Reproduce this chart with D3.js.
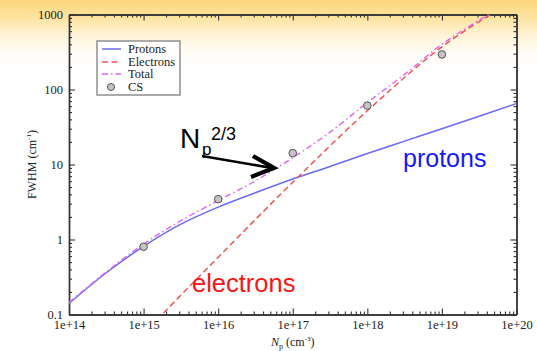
<!DOCTYPE html>
<html><head><meta charset="utf-8">
<script src="https://cdn.jsdelivr.net/npm/d3@7"></script>
<style>body{margin:0;background:#fff}svg{display:block}</style>
</head><body><svg id="c" width="537" height="351"></svg>
<script>
// ---- data ----
const xTickValues = [1e14, 1e15, 1e16, 1e17, 1e18, 1e19, 1e20];
const xTickLabels = ["1e+14", "1e+15", "1e+16", "1e+17", "1e+18", "1e+19", "1e+20"];
const yTickValues = [0.1, 1, 10, 100, 1000];
const yTickLabels = ["0.1", "1", "10", "100", "1000"];

const protonN = [1e14, 3.16e14, 1e15, 3.16e15, 1e16, 3.16e16, 1e17, 3.16e17, 1e18, 3.16e18, 1e19, 3.16e19, 1e20];
const protonFWHM = [0.14, 0.36, 0.81, 1.6, 2.7, 4.2, 6.4, 9.4, 14, 20.5, 30, 44, 65];

const electronN = [1e15, 1e16, 1e17, 1e18, 1e19, 1e20];
const electronFWHM = [0.056, 0.58, 5.8, 52, 370, 1600];

const totalN = [1e14, 3.16e14, 1e15, 3.16e15, 1e16, 3.16e16, 1e17, 3.16e17, 1e18, 3.16e18, 1e19, 3.16e19, 1e20];
const totalFWHM = [0.145, 0.37, 0.87, 1.78, 3.3, 6.05, 12.3, 27, 67, 159, 400, 840, 1665];

const csN = [1e15, 1e16, 1e17, 1e18, 1e19];
const csFWHM = [0.8, 3.45, 14.2, 61, 293];

const legendNames = ["Protons", "Electrons", "Total", "CS"];

// ---- setup ----
const svg = d3.select("#c");
const W = 537, H = 351;
const defs = svg.append("defs");
const g = defs.append("linearGradient").attr("id", "bg").attr("x1", 0).attr("y1", 0).attr("x2", 0).attr("y2", 1);
[[0, "#fcd67c"], [0.05, "#fde3a0"], [0.1, "#fff3d6"], [0.15, "#fffdf7"], [0.2, "#ffffff"], [1, "#ffffff"]]
  .forEach(([o, c]) => g.append("stop").attr("offset", o).attr("stop-color", c));
svg.append("rect").attr("width", W).attr("height", H).attr("fill", "url(#bg)");

const X0 = 69, X1 = 516.5, Y0 = 314.5, Y1 = 14.5;
const x = d3.scaleLog().domain([1e14, 1e20]).range([X0, X1]);
const y = d3.scaleLog().domain([0.1, 1000]).range([Y0, Y1]);

defs.append("clipPath").attr("id", "clip").append("rect")
  .attr("x", X0).attr("y", Y1).attr("width", X1 - X0).attr("height", Y0 - Y1);

// minor ticks
const xMinor = [], yMinor = [];
for (let d = 14; d < 20; d++) for (let k = 2; k <= 9; k++) xMinor.push(k * Math.pow(10, d));
for (let d = -1; d < 3; d++) for (let k = 2; k <= 9; k++) yMinor.push(+(k * Math.pow(10, d)).toPrecision(3));

const axisColor = "#333";
function styleAxis(sel, labels) {
  sel.selectAll("path.domain").attr("stroke", axisColor).attr("stroke-width", 1.4);
  sel.selectAll(".tick line").attr("stroke", axisColor).attr("stroke-width", 1.1);
  sel.selectAll("text").attr("font-family", "'Liberation Serif', 'Times New Roman', serif")
    .attr("font-size", 12.5).attr("fill", "#222");
  if (!labels) sel.selectAll("text").remove();
}

const xLab = d3.scaleOrdinal().domain(xTickValues).range(xTickLabels);
const yLab = d3.scaleOrdinal().domain(yTickValues).range(yTickLabels);

// bottom
svg.append("g").attr("transform", `translate(0,${Y0})`)
  .call(d3.axisBottom(x).tickValues(xMinor).tickSize(-3).tickSizeOuter(0).tickFormat(""))
  .call(s => styleAxis(s, false));
svg.append("g").attr("transform", `translate(0,${Y0})`)
  .call(d3.axisBottom(x).tickValues(xTickValues).tickSize(-6).tickSizeOuter(0).tickPadding(6)
    .tickFormat(d => xLab(d)))
  .call(s => styleAxis(s, true));
// top
svg.append("g").attr("transform", `translate(0,${Y1})`)
  .call(d3.axisTop(x).tickValues(xMinor).tickSize(-3).tickSizeOuter(0).tickFormat(""))
  .call(s => styleAxis(s, false));
svg.append("g").attr("transform", `translate(0,${Y1})`)
  .call(d3.axisTop(x).tickValues(xTickValues).tickSize(-6).tickSizeOuter(0).tickFormat(""))
  .call(s => styleAxis(s, false));
// left
svg.append("g").attr("transform", `translate(${X0},0)`)
  .call(d3.axisLeft(y).tickValues(yMinor).tickSize(-3).tickSizeOuter(0).tickFormat(""))
  .call(s => styleAxis(s, false));
svg.append("g").attr("transform", `translate(${X0},0)`)
  .call(d3.axisLeft(y).tickValues(yTickValues).tickSize(-6).tickSizeOuter(0).tickPadding(6)
    .tickFormat(d => yLab(d)))
  .call(s => styleAxis(s, true));
// right
svg.append("g").attr("transform", `translate(${X1},0)`)
  .call(d3.axisRight(y).tickValues(yMinor).tickSize(-3).tickSizeOuter(0).tickFormat(""))
  .call(s => styleAxis(s, false));
svg.append("g").attr("transform", `translate(${X1},0)`)
  .call(d3.axisRight(y).tickValues(yTickValues).tickSize(-6).tickSizeOuter(0).tickFormat(""))
  .call(s => styleAxis(s, false));

// axis titles
const serif = "'Liberation Serif', 'Times New Roman', serif";
const xt = svg.append("text").attr("x", (X0 + X1) / 2).attr("y", 346).attr("text-anchor", "middle")
  .attr("font-family", serif).attr("font-size", 12).attr("fill", "#222");
xt.append("tspan").attr("font-style", "italic").text("N");
xt.append("tspan").attr("font-size", 8).attr("dy", 3).text("p");
xt.append("tspan").attr("dy", -3).text(" (cm");
xt.append("tspan").attr("font-size", 7).attr("dy", -5).text("-3");
xt.append("tspan").attr("dy", 5).text(")");

const yt = svg.append("text").attr("transform", `translate(36,${(Y0 + Y1) / 2}) rotate(-90)`)
  .attr("text-anchor", "middle").attr("font-family", serif).attr("font-size", 12).attr("fill", "#222");
yt.append("tspan").text("FWHM (cm");
yt.append("tspan").attr("font-size", 7).attr("dy", -5).text("-1");
yt.append("tspan").attr("dy", 5).text(")");

// lines
const plot = svg.append("g").attr("clip-path", "url(#clip)");
const line = d3.line().x(d => x(d[0])).y(d => y(d[1])).curve(d3.curveMonotoneX);
const zip = (a, b) => a.map((v, i) => [v, b[i]]);

plot.append("path").datum(zip(protonN, protonFWHM)).attr("d", line)
  .attr("fill", "none").attr("stroke", "#6a6af5").attr("stroke-width", 1.5);
plot.append("path").datum(zip(electronN, electronFWHM)).attr("d", line)
  .attr("fill", "none").attr("stroke", "#ee5555").attr("stroke-width", 1.5).attr("stroke-dasharray", "6,3.5");
plot.append("path").datum(zip(totalN, totalFWHM)).attr("d", line)
  .attr("fill", "none").attr("stroke", "#dd66f0").attr("stroke-width", 1.4).attr("stroke-dasharray", "6,3,1.5,3");

plot.selectAll("circle.cs").data(zip(csN, csFWHM)).join("circle").attr("class", "cs")
  .attr("cx", d => x(d[0])).attr("cy", d => y(d[1])).attr("r", 3.8)
  .attr("fill", "#c4c4c4").attr("stroke", "#555").attr("stroke-width", 1);

// legend
const lg = svg.append("g");
lg.append("rect").attr("x", 97).attr("y", 41).attr("width", 83).attr("height", 54)
  .attr("fill", "#fff").attr("stroke", "#888").attr("stroke-width", 1.4);
const ly = [49, 62, 74, 87];
const lstyles = [
  {c: "#6a6af5", dash: null},
  {c: "#ee5555", dash: "6,3.5"},
  {c: "#dd66f0", dash: "6,3,1.5,3"}
];
lstyles.forEach((s, i) => {
  lg.append("line").attr("x1", 102).attr("x2", 121).attr("y1", ly[i]).attr("y2", ly[i])
    .attr("stroke", s.c).attr("stroke-width", 1.5).attr("stroke-dasharray", s.dash);
});
lg.append("circle").attr("cx", 111).attr("cy", ly[3]).attr("r", 3.5)
  .attr("fill", "#c4c4c4").attr("stroke", "#555").attr("stroke-width", 1);
legendNames.forEach((n, i) => {
  lg.append("text").attr("x", 128).attr("y", ly[i] + 4.3).text(n)
    .attr("font-family", serif).attr("font-size", 12.5).attr("fill", "#222");
});

// annotations
const sans = "'Liberation Sans', Arial, Helvetica, sans-serif";
svg.append("text").attr("x", 180).attr("y", 148).attr("font-family", sans).attr("font-size", 28).text("N");
svg.append("text").attr("x", 202).attr("y", 155).attr("font-family", sans).attr("font-size", 17).text("p");
svg.append("text").attr("x", 211).attr("y", 140).attr("font-family", sans).attr("font-size", 18).text("2/3");
svg.append("line").attr("x1", 202).attr("y1", 156).attr("x2", 272).attr("y2", 168)
  .attr("stroke", "#000").attr("stroke-width", 2.6);
svg.append("path").attr("d", "M253,156 L274,168 L251,177")
  .attr("fill", "none").attr("stroke", "#000").attr("stroke-width", 4.2).attr("stroke-linejoin", "miter");

svg.append("text").attr("x", 403).attr("y", 167).attr("font-family", sans).attr("font-size", 25)
  .attr("fill", "#1717f5").text("protons");
svg.append("text").attr("x", 192).attr("y", 292).attr("font-family", sans).attr("font-size", 25.5)
  .attr("fill", "#f51515").text("electrons");
</script></body></html>
